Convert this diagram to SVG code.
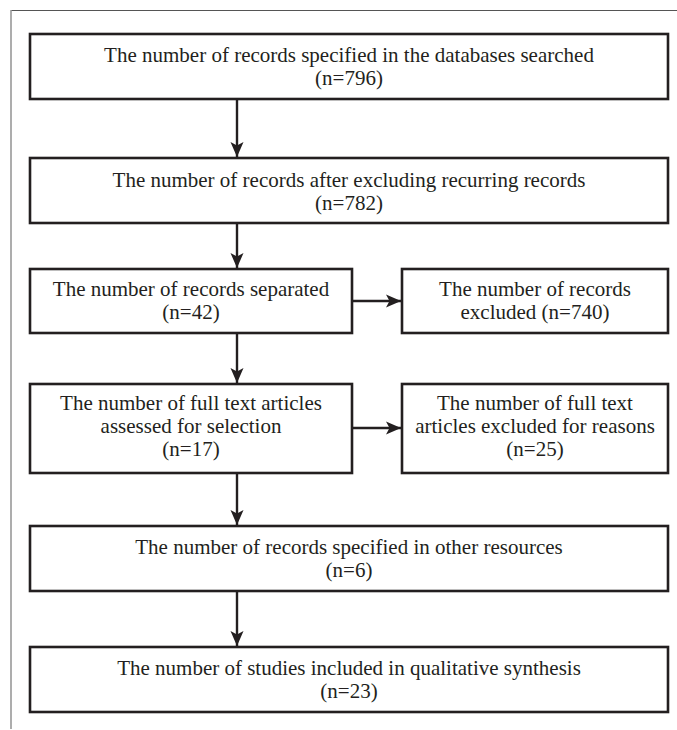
<svg xmlns="http://www.w3.org/2000/svg" width="677" height="730" viewBox="0 0 677 730">
<style>
.box{fill:#fff;stroke:#231f20;stroke-width:2.6}
.t{font-family:"Liberation Serif","Times New Roman",serif;font-size:21px;fill:#231f20;text-anchor:middle}
.c{stroke:#231f20;stroke-width:2.4;fill:none}
</style>
<defs>
<marker id="ah" markerUnits="userSpaceOnUse" markerWidth="16" markerHeight="14" refX="15" refY="7" orient="auto">
<path d="M0,0.5 L15,7 L0,13.5 L3.5,7 Z" fill="#231f20"/>
</marker>
</defs>
<rect width="677" height="730" fill="#fff"/>
<line x1="11" y1="10.5" x2="677" y2="10.5" stroke="#555" stroke-width="1.2"/>
<line x1="11" y1="10" x2="11" y2="729" stroke="#999" stroke-width="1.6"/>
<g id="connectors">
<line class="c" x1="237" y1="99" x2="237" y2="157" marker-end="url(#ah)"/>
<line class="c" x1="237" y1="223" x2="237" y2="268" marker-end="url(#ah)"/>
<line class="c" x1="237" y1="333" x2="237" y2="383" marker-end="url(#ah)"/>
<line class="c" x1="237" y1="473" x2="237" y2="525" marker-end="url(#ah)"/>
<line class="c" x1="237" y1="591" x2="237" y2="646" marker-end="url(#ah)"/>
<line class="c" x1="352" y1="301" x2="401" y2="301" marker-end="url(#ah)"/>
<line class="c" x1="352" y1="428" x2="401" y2="428" marker-end="url(#ah)"/>
</g>
<g id="n1"><rect class="box" x="30" y="34" width="638" height="65"/>
<text class="t" x="349" y="62">The number of records specified in the databases searched</text>
<text class="t" x="349" y="85">(n=796)</text></g>
<g id="n2"><rect class="box" x="30" y="158" width="638" height="65"/>
<text class="t" x="349" y="187">The number of records after excluding recurring records</text>
<text class="t" x="349" y="210">(n=782)</text></g>
<g id="n3"><rect class="box" x="30" y="269" width="322" height="64"/>
<text class="t" x="191" y="296">The number of records separated</text>
<text class="t" x="191" y="319">(n=42)</text></g>
<g id="n4"><rect class="box" x="402" y="269" width="266" height="64"/>
<text class="t" x="535" y="296">The number of records</text>
<text class="t" x="535" y="319">excluded (n=740)</text></g>
<g id="n5"><rect class="box" x="30" y="384" width="322" height="89"/>
<text class="t" x="191" y="410">The number of full text articles</text>
<text class="t" x="191" y="433">assessed for selection</text>
<text class="t" x="191" y="456">(n=17)</text></g>
<g id="n6"><rect class="box" x="402" y="384" width="266" height="89"/>
<text class="t" x="535" y="410">The number of full text</text>
<text class="t" x="535" y="433">articles excluded for reasons</text>
<text class="t" x="535" y="456">(n=25)</text></g>
<g id="n7"><rect class="box" x="30" y="526" width="638" height="65"/>
<text class="t" x="349" y="554">The number of records specified in other resources</text>
<text class="t" x="349" y="577">(n=6)</text></g>
<g id="n8"><rect class="box" x="30" y="647" width="638" height="65"/>
<text class="t" x="349" y="675">The number of studies included in qualitative synthesis</text>
<text class="t" x="349" y="698">(n=23)</text></g>
</svg>
